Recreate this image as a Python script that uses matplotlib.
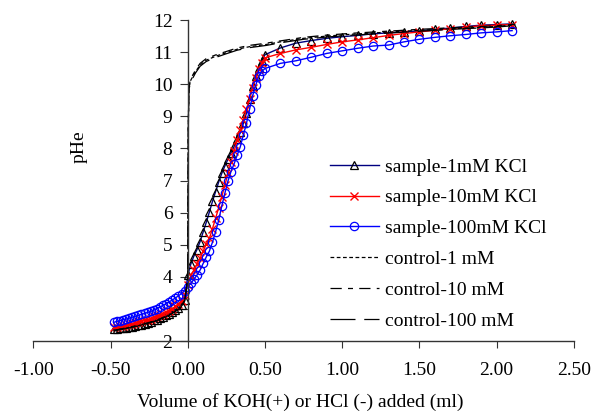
import matplotlib
matplotlib.use("Agg")
import matplotlib.pyplot as plt

plt.rcParams["font.family"] = ["Liberation Serif", "DejaVu Serif"]
plt.rcParams["font.size"] = 14

# titration volume (ml): dense steps near the equivalence region, 0.1 ml after
x_dense = [-0.48, -0.46, -0.44, -0.42, -0.40, -0.38, -0.36, -0.34, -0.32, -0.30,
           -0.28, -0.26, -0.24, -0.22, -0.20, -0.18, -0.16, -0.14, -0.12, -0.10,
           -0.08, -0.06, -0.04, -0.02, 0.00, 0.02, 0.04, 0.06, 0.08, 0.10,
           0.12, 0.14, 0.16, 0.18, 0.20, 0.22, 0.24, 0.26, 0.28, 0.30,
           0.32, 0.34, 0.36, 0.38, 0.40, 0.42, 0.44, 0.46, 0.48, 0.50]
x_coarse = [0.6, 0.7, 0.8, 0.9, 1.0, 1.1, 1.2, 1.3, 1.4, 1.5, 1.6, 1.7, 1.8, 1.9, 2.0, 2.1]
x_sample = x_dense + x_coarse

ph_1mM = [2.36, 2.37, 2.39, 2.40, 2.42, 2.43, 2.45, 2.47, 2.49, 2.51,
          2.54, 2.57, 2.60, 2.64, 2.67, 2.71, 2.75, 2.80, 2.85, 2.91,
          2.97, 3.04, 3.13, 3.28, 4.05, 4.40, 4.65, 4.85, 5.10, 5.40,
          5.70, 6.02, 6.35, 6.65, 6.95, 7.22, 7.45, 7.66, 7.86, 8.06,
          8.28, 8.50, 8.78, 9.10, 9.55, 9.95, 10.25, 10.50, 10.72, 10.92,
          11.13, 11.28, 11.36, 11.43, 11.48, 11.52, 11.57, 11.60, 11.63, 11.66,
          11.71, 11.75, 11.80, 11.84, 11.86, 11.88]

ph_10mM = [2.44, 2.45, 2.47, 2.48, 2.50, 2.52, 2.54, 2.56, 2.58, 2.61,
           2.64, 2.67, 2.70, 2.74, 2.77, 2.81, 2.85, 2.90, 2.95, 3.01,
           3.08, 3.16, 3.26, 3.42, 3.75, 4.02, 4.22, 4.40, 4.58, 4.80,
           5.02, 5.20, 5.50, 5.82, 6.15, 6.50, 6.85, 7.22, 7.58, 7.92,
           8.25, 8.58, 8.90, 9.22, 9.55, 9.88, 10.20, 10.46, 10.66, 10.82,
           10.96, 11.07, 11.15, 11.24, 11.32, 11.38, 11.45, 11.52, 11.58, 11.63,
           11.68, 11.73, 11.78, 11.82, 11.84, 11.86]

ph_100mM = [2.58, 2.61, 2.63, 2.66, 2.68, 2.71, 2.74, 2.77, 2.80, 2.83,
            2.86, 2.89, 2.92, 2.96, 3.01, 3.06, 3.11, 3.16, 3.22, 3.28,
            3.34, 3.41, 3.48, 3.57, 3.68, 3.80, 3.92, 4.06, 4.21, 4.42,
            4.62, 4.80, 5.08, 5.40, 5.76, 6.20, 6.60, 6.98, 7.28, 7.52,
            7.79, 8.05, 8.42, 8.78, 9.22, 9.64, 9.97, 10.25, 10.40, 10.49,
            10.65, 10.73, 10.84, 10.96, 11.04, 11.12, 11.19, 11.22, 11.32, 11.40,
            11.46, 11.51, 11.55, 11.60, 11.63, 11.67]

x_control = [-0.48, -0.40, -0.30, -0.20, -0.10, -0.05, -0.02, 0.00, 0.003, 0.008,
             0.02, 0.05, 0.08, 0.12, 0.19, 0.25, 0.32, 0.40, 0.51, 0.60,
             0.75, 0.90, 1.07, 1.25, 1.50, 1.75, 2.00, 2.12]
ph_ctrl_1 = [2.32, 2.40, 2.50, 2.64, 2.85, 3.02, 3.25, 3.95, 8.60, 9.90,
             10.13, 10.39, 10.60, 10.75, 10.89, 10.98, 11.09, 11.17, 11.24, 11.32,
             11.43, 11.50, 11.56, 11.61, 11.68, 11.74, 11.80, 11.85]
ph_ctrl_10 = [2.33, 2.41, 2.51, 2.65, 2.86, 3.03, 3.27, 4.00, 8.70, 9.95,
              10.18, 10.44, 10.65, 10.80, 10.93, 11.02, 11.13, 11.21, 11.28, 11.35,
              11.46, 11.53, 11.59, 11.64, 11.71, 11.77, 11.82, 11.87]
ph_ctrl_100 = [2.31, 2.39, 2.49, 2.63, 2.84, 3.01, 3.24, 3.90, 8.50, 9.85,
               10.08, 10.35, 10.56, 10.71, 10.85, 10.95, 11.06, 11.14, 11.21, 11.29,
               11.40, 11.47, 11.53, 11.58, 11.65, 11.72, 11.78, 11.83]

xticks = [-1.0, -0.5, 0.0, 0.5, 1.0, 1.5, 2.0, 2.5]
yticks = [2, 3, 4, 5, 6, 7, 8, 9, 10, 11, 12]

fig = plt.figure(figsize=(5.98, 4.12), dpi=100)
ax = fig.add_axes([0.0557, 0.1723, 0.9040, 0.7791])

ax.plot(x_sample, ph_1mM, color="#000080", lw=1.0, marker="^", ms=5.5,
        mfc="none", mec="black", mew=0.9, label="sample-1mM KCl")
ax.plot(x_sample, ph_10mM, color="red", lw=1.0, marker="x", ms=6,
        mec="red", mew=1.0, label="sample-10mM KCl")
ax.plot(x_sample, ph_100mM, color="blue", lw=1.0, marker="o", ms=6,
        mfc="none", mec="blue", mew=0.9, label="sample-100mM KCl")
ax.plot(x_control, ph_ctrl_1, color="black", lw=0.9, dashes=(3, 2),
        label="control-1 mM")
ax.plot(x_control, ph_ctrl_10, color="black", lw=0.9, dashes=(9, 5, 4, 5),
        label="control-10 mM")
ax.plot(x_control, ph_ctrl_100, color="black", lw=0.9, dashes=(20, 7),
        label="control-100 mM")

ax.set_xlim(-1.0, 2.5)
ax.set_ylim(2, 12)
ax.set_xticks(xticks)
ax.set_xticklabels([f"{v:.2f}" for v in xticks])
ax.set_yticks(yticks)

ax.spines["left"].set_position(("data", 0))
ax.spines["top"].set_visible(False)
ax.spines["right"].set_visible(False)
for s in ("left", "bottom"):
    ax.spines[s].set_color("#333333")
    ax.spines[s].set_linewidth(1.0)
ax.tick_params(axis="x", direction="out", length=5, pad=10, color="#333333")
ax.tick_params(axis="y", direction="out", length=6, pad=5, color="#333333")

ax.set_ylabel("pHe")
ax.yaxis.set_label_coords(0.100, 0.604)
fig.text(300 / 598, 1 - 402 / 412, "Volume of KOH(+) or HCl (-) added (ml)",
         ha="center", va="center", fontsize=14)

ax.legend(loc="upper left", bbox_to_anchor=(330 / 598, 1 - 158 / 412),
          bbox_transform=fig.transFigure, frameon=False, borderpad=0,
          borderaxespad=0, handlelength=2.5, handletextpad=0.35,
          labelspacing=0.68, numpoints=1, fontsize=14)

fig.savefig("out.png", dpi=100)
